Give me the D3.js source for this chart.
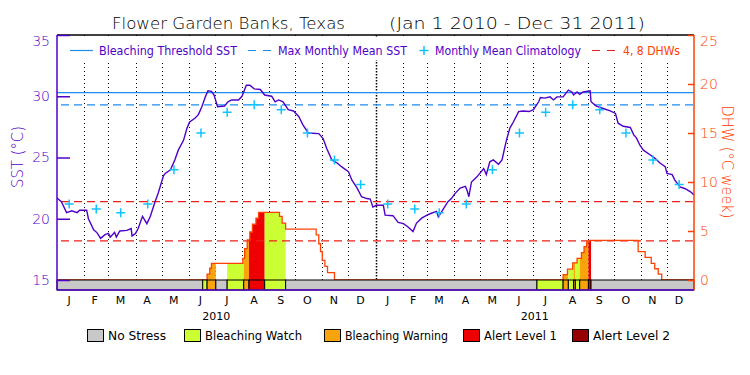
<!DOCTYPE html>
<meta charset="utf-8">
<style>
body { margin: 0; background: #fff; }
svg { font-family: "DejaVu Sans", sans-serif; }
.thin { font-weight: 200; }
</style>
<svg width="750" height="375"></svg>
<script src="https://cdn.jsdelivr.net/npm/d3@7"></script>
<script>

// ---- data (days counted from Jan 1 2010) ----
var months = ["J","F","M","A","M","J","J","A","S","O","N","D"];
var years = ["2010", "2011"];

var sstDay = [0,5,11,17,23,26,34,36,42,46,50,55,59,61,66,68,72,80,85,86,90,93,98,103,107,112,116,122,124,130,
  135,139,145,149,152,158,162,166,170,173,177,180,184,192,196,200,208,212,217,221,226,233,238,246,250,254,259,265,271,277,
  282,288,300,305,309,315,321,326,334,338,344,349,355,359,362,366,374,376,
  385,391,397,402,408,412,418,424,429,435,437,441,448,452,456,462,468,470,472,475,481,489,492,496,500,506,510,512,515,519,
  523,529,534,541,546,552,554,559,565,569,573,580,586,590,592,596,599,603,611,612,618,626,634,640,643,649,657,661,664,668,
  672,680,685,691,697,699,705,708,714,720,726,730];
var sstVal = [21.7,21.4,20.5,20.65,20.5,20.7,20.7,20.0,19.1,18.85,18.4,18.7,18.8,18.5,18.9,18.5,19.0,19.05,19.2,18.6,18.8,19.2,20.2,19.6,20.2,21.3,22.1,23.5,23.7,24.0,
  24.8,25.6,26.4,27.4,27.9,28.2,28.5,29.15,29.95,30.45,30.4,30.1,29.15,29.2,29.55,29.7,29.7,30.0,30.9,30.9,30.6,30.55,30.1,30.0,29.55,29.7,29.55,28.9,28.8,28.35,
  27.65,27.0,26.95,26.55,25.75,24.8,24.55,24.25,23.85,23.15,22.5,21.8,21.65,21.6,20.95,21.1,21.1,20.3,
  20.25,19.7,19.6,19.35,18.95,19.65,20.05,20.3,20.45,20.6,20.15,20.6,21.4,21.65,22.05,22.5,22.65,22.3,21.8,23.0,23.4,24.1,23.6,24.65,24.8,24.45,24.8,25.45,26.4,27.4,
  27.9,28.75,28.8,28.75,28.9,29.55,29.9,29.85,29.95,29.7,29.95,29.95,30.5,30.35,30.1,30.35,30.15,30.35,30.45,29.55,29.2,29.0,28.8,28.6,27.8,27.55,27.45,26.85,26.6,26.0,
  25.6,25.2,24.95,24.55,24.25,23.7,23.6,23.15,22.6,22.45,22.2,21.95];

var climVal = [21.2, 20.8, 20.5, 21.2, 24.0, 27.0, 28.7, 29.3, 28.9, 27.0, 24.8, 22.8];
var mmm = 29.3, bleachThreshold = 30.3;
var dhwLines = [4, 8];

var dhwDay = [0,172,175,177,213,215,218,221,224,228,231,255,258,262,297,300,302,304,307,310,318,
  580,585,591,596,601,604,607,610,666,674,681,685,689,693,730];
var dhwVal = [0,0.6,1.2,1.7,2.2,3.2,4.1,4.9,5.7,6.3,6.9,6.5,5.8,5.2,4.6,3.7,2.9,2.0,1.4,0.75,0,
  0.55,1.1,1.75,2.2,2.8,3.4,3.9,4.05,2.9,2.3,1.7,1.15,0.6,0,0];

var stressDay = [0,167,172,182,195,214,220,238,262,550,580,586,592,594,599,609,612];
var stressLevel = [0,1,2,0,1,2,3,1,0,1,2,1,2,1,2,3,0];
var stressNames = ["No Stress","Bleaching Watch","Bleaching Warning","Alert Level 1","Alert Level 2"];
var stressColors = ["#c8c8c8","#ccff33","#f9a40d","#ee0000","#960000"];

var sstTicks = [15,20,25,30,35];
var dhwTicks = [0,5,10,15,20,25];

// ---- layout ----
var svg = d3.select("svg"),
    m = {left: 57, right: 694, top: 35, base: 280, bar: 290},
    purple = "#5000c8", redOrange = "#ff4000", cyan = "#10c4ff", blue = "#1e8cf0";

var t0 = new Date(2010, 0, 1);
function dayDate(d) { return d3.timeDay.offset(t0, d); }

var x = d3.scaleTime().domain([t0, new Date(2012, 0, 1)]).range([m.left, m.right]),
    ySst = d3.scaleLinear().domain([15, 35]).range([m.base, m.top]),
    yDhw = d3.scaleLinear().domain([0, 25]).range([m.base, m.top]);

function fit(sel, w) { return sel.attr("textLength", w).attr("lengthAdjust", "spacingAndGlyphs"); }

var sst = sstDay.map(function(d, i) { return {date: dayDate(d), v: sstVal[i]}; });
var dhw = dhwDay.map(function(d, i) { return {date: dayDate(d), v: dhwVal[i]}; });
var segs = stressDay.map(function(d, i) {
  return {start: dayDate(d), end: dayDate(i < stressDay.length - 1 ? stressDay[i + 1] : 730), level: stressLevel[i]};
});

// month divider lines
var monthStarts = d3.timeMonth.range(new Date(2010, 1, 1), new Date(2012, 0, 1));
svg.append("g").selectAll("line")
  .data(monthStarts)
  .enter().append("line")
    .attr("x1", function(d) { return Math.round(x(d)) + 0.5; })
    .attr("x2", function(d) { return Math.round(x(d)) + 0.5; })
    .attr("y1", m.top)
    .attr("y2", m.base)
    .attr("stroke", "#000")
    .attr("stroke-width", function(d) { return d.getMonth() === 0 ? 1.5 : 1; })
    .attr("stroke-dasharray", function(d) { return d.getMonth() === 0 ? "1.5,1.5" : "1,3"; });

// legend background
svg.append("rect")
    .attr("x", m.left + 1).attr("y", 38)
    .attr("width", m.right - m.left - 2).attr("height", 22)
    .attr("fill", "#fff");

// stress fills under the DHW curve
var area = d3.area()
    .curve(d3.curveStepAfter)
    .x(function(d) { return x(d.date); })
    .y0(yDhw(0))
    .y1(function(d) { return yDhw(d.v); });

var defs = svg.append("defs");
segs.forEach(function(s, i) {
  if (s.level === 0) return;
  defs.append("clipPath").attr("id", "seg" + i)
    .append("rect")
      .attr("x", x(s.start)).attr("y", m.top)
      .attr("width", x(s.end) - x(s.start)).attr("height", m.base - m.top);
  svg.append("path")
      .datum(dhw)
      .attr("clip-path", "url(#seg" + i + ")")
      .attr("fill", stressColors[s.level])
      .attr("d", area);
});

// reference lines
svg.append("line")
    .attr("x1", m.left).attr("x2", m.right)
    .attr("y1", ySst(bleachThreshold)).attr("y2", ySst(bleachThreshold))
    .attr("stroke", blue).attr("stroke-width", 1.2);
svg.append("line")
    .attr("x1", m.left + 4).attr("x2", m.right)
    .attr("y1", ySst(mmm)).attr("y2", ySst(mmm))
    .attr("stroke", blue).attr("stroke-width", 1.2)
    .attr("stroke-dasharray", "8,5");
svg.selectAll(".dhwref")
  .data(dhwLines)
  .enter().append("line")
    .attr("class", "dhwref")
    .attr("x1", m.left + 4).attr("x2", m.right)
    .attr("y1", function(d) { return yDhw(d); })
    .attr("y2", function(d) { return yDhw(d); })
    .attr("stroke", "#f01e1e").attr("stroke-width", 1.2)
    .attr("stroke-dasharray", "8,5");

// DHW step line
svg.append("path")
    .datum(dhw)
    .attr("fill", "none")
    .attr("stroke", redOrange)
    .attr("stroke-width", 1.3)
    .attr("d", d3.line().curve(d3.curveStepAfter)
      .x(function(d) { return x(d.date); })
      .y(function(d) { return yDhw(d.v); }));

// SST line
svg.append("path")
    .datum(sst)
    .attr("fill", "none")
    .attr("stroke", purple)
    .attr("stroke-width", 1.4)
    .attr("d", d3.line()
      .x(function(d) { return x(d.date); })
      .y(function(d) { return ySst(d.v); }));

// monthly mean climatology
var clim = [];
years.forEach(function(y, yi) {
  climVal.forEach(function(v, mi) { clim.push({date: new Date(2010 + yi, mi, 15), v: v}); });
});
svg.append("g").selectAll("path")
  .data(clim)
  .enter().append("path")
    .attr("transform", function(d) { return "translate(" + x(d.date) + "," + ySst(d.v) + ")"; })
    .attr("d", "M-4.5,0H4.5M0,-4.5V4.5")
    .attr("stroke", cyan)
    .attr("stroke-width", 1.5);

// stress bar
svg.append("g").selectAll("rect")
  .data(segs)
  .enter().append("rect")
    .attr("x", function(d) { return x(d.start); })
    .attr("y", m.base)
    .attr("width", function(d) { return x(d.end) - x(d.start); })
    .attr("height", m.bar - m.base)
    .attr("fill", function(d) { return stressColors[d.level]; })
    .attr("stroke", "#000")
    .attr("stroke-width", 1);

// frame
svg.append("line").attr("x1", m.left).attr("x2", m.right).attr("y1", m.top).attr("y2", m.top)
    .attr("stroke", "#000").attr("stroke-width", 1.5);
svg.append("line").attr("x1", m.left).attr("x2", m.right).attr("y1", m.bar).attr("y2", m.bar)
    .attr("stroke", purple).attr("stroke-width", 1.5);

// left axis
var gl = svg.append("g").attr("transform", "translate(" + m.left + ",0)");
gl.call(d3.axisLeft(ySst).tickValues(d3.range(15, 36)).tickSize(-6.5).tickFormat(""));
gl.call(d3.axisLeft(ySst).tickValues(sstTicks).tickSize(-13).tickPadding(7).tickSizeOuter(0));
gl.selectAll("path.domain").attr("stroke", purple).attr("stroke-width", 1.5).attr("d", "M0," + m.top + "V" + m.bar);
gl.selectAll("line").attr("stroke", purple).attr("stroke-width", 1.5);
gl.selectAll("text")
    .attr("class", "thin")
    .attr("fill", purple)
    .style("font-size", "14px")
    .attr("y", function(d) { return d === 35 ? 6 : 0; });

// right axis
var gr = svg.append("g").attr("transform", "translate(" + m.right + ",0)");
gr.call(d3.axisRight(yDhw).tickValues(d3.range(0, 26)).tickSize(-5).tickFormat(""));
gr.call(d3.axisRight(yDhw).tickValues(dhwTicks).tickSize(-6).tickPadding(6).tickSizeOuter(0));
gr.selectAll("path.domain").attr("stroke", redOrange).attr("stroke-width", 1.5).attr("d", "M0," + m.top + "V" + m.bar);
gr.selectAll("line").attr("stroke", redOrange).attr("stroke-width", 1.5);
gr.selectAll("text")
    .attr("class", "thin")
    .attr("fill", redOrange)
    .style("font-size", "14px")
    .attr("y", function(d) { return d === 25 ? 6 : 0; });
svg.selectAll("g").attr("font-family", null).attr("font-size", null);

// axis titles
fit(svg.append("text")
    .attr("class", "thin")
    .attr("transform", "translate(23,157) rotate(-90)")
    .attr("text-anchor", "middle")
    .attr("fill", purple)
    .style("font-size", "15px")
    .text("SST (°C)"), 62);
fit(svg.append("text")
    .attr("class", "thin")
    .attr("transform", "translate(722,162) rotate(90)")
    .attr("text-anchor", "middle")
    .attr("fill", redOrange)
    .style("font-size", "15px")
    .text("DHW (°C week)"), 113);

// month and year labels
years.forEach(function(y, yi) {
  months.forEach(function(mo, mi) {
    var a = new Date(2010 + yi, mi, 1), b = new Date(2010 + yi, mi + 1, 1);
    svg.append("text")
        .attr("x", (x(a) + x(b)) / 2 - 1.5)
        .attr("y", 304)
        .attr("text-anchor", "middle")
        .style("font-size", "11px")
        .text(mo);
  });
  svg.append("text")
      .attr("x", (x(new Date(2010 + yi, 0, 1)) + x(new Date(2011 + yi, 0, 1))) / 2)
      .attr("y", 320)
      .attr("text-anchor", "middle")
      .style("font-size", "11px")
      .text(y);
});

// title
fit(svg.append("text").attr("class", "thin").attr("x", 112).attr("y", 29).style("font-size", "16px")
    .text("Flower Garden Banks, Texas"), 233);
fit(svg.append("text").attr("class", "thin").attr("x", 389).attr("y", 29).style("font-size", "16px")
    .text("(Jan 1 2010 - Dec 31 2011)"), 256);

// top legend
var ly = 50.5;
svg.append("line").attr("x1", 70).attr("x2", 93).attr("y1", ly).attr("y2", ly)
    .attr("stroke", blue).attr("stroke-width", 1.2);
svg.append("line").attr("x1", 248).attr("x2", 271).attr("y1", ly).attr("y2", ly)
    .attr("stroke", blue).attr("stroke-width", 1.2).attr("stroke-dasharray", "8,7");
svg.append("path").attr("transform", "translate(424," + ly + ")").attr("d", "M-4.5,0H4.5M0,-4.5V4.5")
    .attr("stroke", cyan).attr("stroke-width", 1.5);
svg.append("line").attr("x1", 592).attr("x2", 616).attr("y1", ly).attr("y2", ly)
    .attr("stroke", "#f01e1e").attr("stroke-width", 1.2).attr("stroke-dasharray", "8,7");
[["Bleaching Threshold SST", 99, 138, purple],
 ["Max Monthly Mean SST", 278, 129, purple],
 ["Monthly Mean Climatology", 435, 146, purple],
 ["4, 8 DHWs", 623, 57, redOrange]].forEach(function(t) {
  fit(svg.append("text").attr("x", t[1]).attr("y", 55).attr("fill", t[3])
      .style("font-size", "12px").text(t[0]), t[2]);
});

// bottom legend
var boxX = [87, 184, 324, 463, 572], textLen = [58, 97, 103, 73, 77];
stressNames.forEach(function(n, i) {
  svg.append("rect").attr("x", boxX[i] + 0.5).attr("y", 329.5).attr("width", 16).attr("height", 12)
      .attr("fill", stressColors[i]).attr("stroke", "#000");
  fit(svg.append("text").attr("x", boxX[i] + 21).attr("y", 340).style("font-size", "12px").text(n), textLen[i]);
});

</script>
